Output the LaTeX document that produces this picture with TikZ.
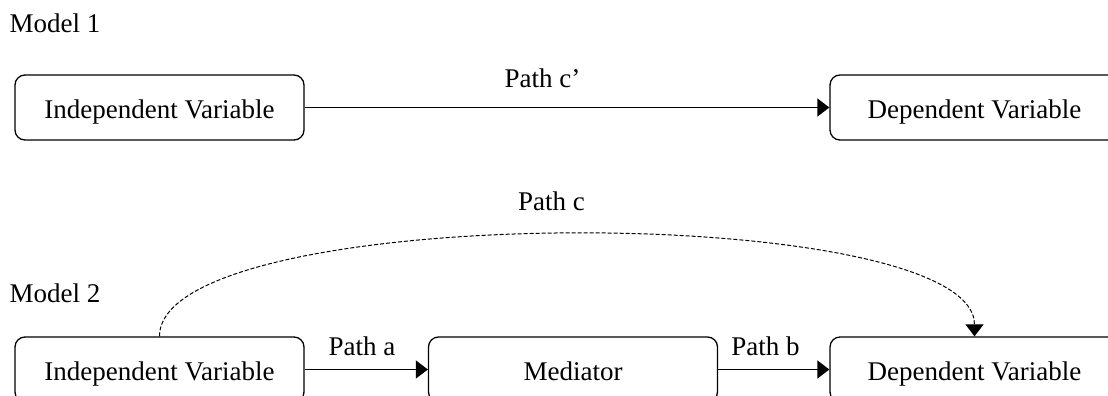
\documentclass[tikz,border=0pt]{standalone}
\usepackage{fontspec}
\setmainfont{Liberation Serif}
\usetikzlibrary{arrows.meta}
\tikzset{
  >={Triangle[length=12pt, width=18pt]},
  var/.style={draw, rounded corners=10pt, line width=1.3pt, minimum width=289pt,
    minimum height=65pt, inner sep=0pt, text height=24pt, text depth=2pt},
  link/.style={->, line width=1.4pt},
  direct/.style={->, line width=1pt, dash pattern=on 4pt off 2pt},
  lbl/.style={anchor=base},
  heading/.style={anchor=base west},
}
\begin{document}
\begin{tikzpicture}[x=1pt, y=-1pt, font=\fontsize{27}{32}\selectfont]
  \clip (0,0) rectangle (1108,396);
  % model 1: direct effect only
  \node[heading] (m1) at (6,33) {Model 1};
  \node[var] (iv1) at (159.5,107.5) {Independent Variable};
  \node[var] (dv1) at (974.5,107.5) {Dependent Variable};
  \draw[link] (iv1.east) -- (dv1.west);
  \node[lbl] (pc1) at (542.5,87) {Path c’};
  % model 2: through the mediator
  \node[heading] (m2) at (6,302) {Model 2};
  \node[var] (iv2) at (159.5,369.5) {Independent Variable};
  \node[var] (med) at (573,369.5) {Mediator};
  \node[var] (dv2) at (974.5,369.5) {Dependent Variable};
  \draw[link] (iv2.east) -- (med.west);
  \draw[link] (med.east) -- (dv2.west);
  \node[lbl] (pa) at (362,355) {Path a};
  \node[lbl] (pb) at (765.5,355) {Path b};
  \draw[direct] (iv2.north) .. controls +(0,-136) and +(0,-136) .. (dv2.north);
  \node[lbl] (pc2) at (551.5,210) {Path c};
\end{tikzpicture}
\end{document}
